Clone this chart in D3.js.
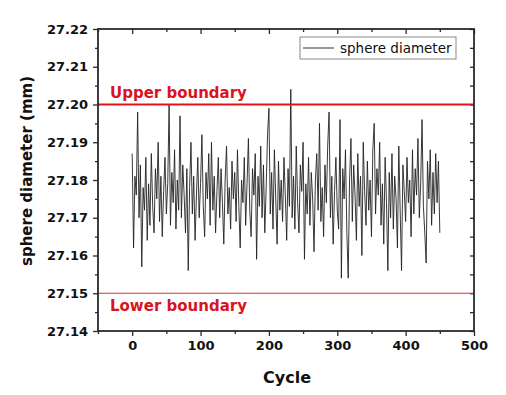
<!DOCTYPE html>
<html>
<head>
<meta charset="utf-8">
<script src="https://cdn.jsdelivr.net/npm/d3@7.9.0/dist/d3.min.js"></script>
<style>
  body { margin: 0; background: #fff; }
  svg { display: block; }
</style>
</head>
<body>
<svg id="chart" width="506" height="395"></svg>
<script>
// cycle numbers: one point every 2 cycles, 0..450
const cycles = d3.range(0, 451, 2);

// sphere diameter (mm)
const diameters = [
  27.187, 27.162, 27.181, 27.176, 27.198, 27.170, 27.184, 27.157, 27.178, 27.172,
  27.186, 27.164, 27.179, 27.168, 27.187, 27.173, 27.166, 27.183, 27.175, 27.190,
  27.169, 27.181, 27.165, 27.177, 27.186, 27.171, 27.179, 27.200, 27.168, 27.182,
  27.174, 27.188, 27.167, 27.180, 27.172, 27.197, 27.170, 27.184, 27.176, 27.166,
  27.183, 27.156, 27.178, 27.190, 27.171, 27.181, 27.164, 27.176, 27.186, 27.170,
  27.179, 27.192, 27.173, 27.165, 27.182, 27.175, 27.187, 27.168, 27.190, 27.172,
  27.181, 27.166, 27.177, 27.186, 27.170, 27.183, 27.174, 27.163, 27.180, 27.189,
  27.171, 27.178, 27.167, 27.185, 27.175, 27.182, 27.169, 27.188, 27.173, 27.162,
  27.180, 27.174, 27.186, 27.168, 27.179, 27.191, 27.172, 27.165, 27.183, 27.176,
  27.187, 27.159, 27.181, 27.173, 27.189, 27.170, 27.184, 27.166, 27.178, 27.192,
  27.199, 27.171, 27.182, 27.167, 27.188, 27.175, 27.163, 27.185, 27.172, 27.180,
  27.169, 27.186, 27.176, 27.164, 27.183, 27.173, 27.204, 27.170, 27.181, 27.167,
  27.189, 27.174, 27.166, 27.184, 27.177, 27.190, 27.159, 27.179, 27.171, 27.186,
  27.168, 27.182, 27.175, 27.161, 27.180, 27.187, 27.172, 27.195, 27.169, 27.178,
  27.165, 27.184, 27.174, 27.189, 27.198, 27.170, 27.181, 27.163, 27.177, 27.186,
  27.172, 27.167, 27.196, 27.154, 27.183, 27.175, 27.188, 27.166, 27.154, 27.180,
  27.191, 27.169, 27.184, 27.176, 27.164, 27.187, 27.173, 27.181, 27.160, 27.190,
  27.177, 27.168, 27.185, 27.172, 27.180, 27.165, 27.188, 27.195, 27.171, 27.183,
  27.176, 27.190, 27.168, 27.179, 27.163, 27.186, 27.174, 27.156, 27.182, 27.170,
  27.187, 27.167, 27.181, 27.175, 27.162, 27.189, 27.172, 27.156, 27.184, 27.177,
  27.169, 27.186, 27.174, 27.180, 27.165, 27.188, 27.171, 27.183, 27.176, 27.191,
  27.170, 27.179, 27.196, 27.173, 27.166, 27.158, 27.185, 27.175, 27.188, 27.168,
  27.182, 27.171, 27.187, 27.174, 27.185, 27.166
];

const xTicks = [0, 100, 200, 300, 400, 500];
const yTicks = [27.14, 27.15, 27.16, 27.17, 27.18, 27.19, 27.20, 27.21, 27.22];
const boundaries = [
  { label: 'Upper boundary', value: 27.20 },
  { label: 'Lower boundary', value: 27.15 }
];

const svg = d3.select('#chart');
const plotLeft = 98, plotRight = 474, plotTop = 29, plotBottom = 331;

let x = d3.scaleLinear().domain([-50, 500]).range([plotLeft, plotRight]);
let y = d3.scaleLinear().domain([27.14, 27.22]).range([plotBottom, plotTop]);

const axisColor = '#2b2b2b';
const tickFont = 'DejaVu Sans, sans-serif';

// minor ticks
const xMinor = d3.range(-50, 501, 50).filter((d) => d % 100 !== 0);
const yMinor = d3.range(0, 8).map((i) => 27.145 + i * 0.01);

function styleAxis(g) {
  g.select('.domain').remove();
  g.selectAll('line').attr('stroke', axisColor).attr('stroke-width', 1.3);
  g.selectAll('text')
    .attr('fill', '#111')
    .attr('font-family', tickFont)
    .attr('font-weight', 'bold')
    .attr('font-size', 13);
}

// bottom
svg.append('g')
  .attr('transform', `translate(0,${plotBottom})`)
  .call(d3.axisBottom(x).tickValues(xTicks).tickSize(5).tickPadding(5).tickFormat(d3.format('d')))
  .call(styleAxis);
svg.append('g')
  .attr('transform', `translate(0,${plotBottom})`)
  .call(d3.axisBottom(x).tickValues(xMinor).tickSize(3).tickFormat(''))
  .call(styleAxis);

// top (inward, no labels)
svg.append('g')
  .attr('transform', `translate(0,${plotTop})`)
  .call(d3.axisBottom(x).tickValues(xTicks).tickSize(5).tickFormat(''))
  .call(styleAxis);
svg.append('g')
  .attr('transform', `translate(0,${plotTop})`)
  .call(d3.axisBottom(x).tickValues(xMinor).tickSize(3).tickFormat(''))
  .call(styleAxis);

// left
svg.append('g')
  .attr('transform', `translate(${plotLeft},0)`)
  .call(d3.axisLeft(y).tickValues(yTicks).tickSize(5).tickPadding(5).tickFormat(d3.format('.2f')))
  .call(styleAxis);
svg.append('g')
  .attr('transform', `translate(${plotLeft},0)`)
  .call(d3.axisLeft(y).tickValues(yMinor).tickSize(3).tickFormat(''))
  .call(styleAxis);

// right (inward, no labels)
svg.append('g')
  .attr('transform', `translate(${plotRight},0)`)
  .call(d3.axisLeft(y).tickValues(yTicks).tickSize(4).tickFormat(''))
  .call(styleAxis);
svg.append('g')
  .attr('transform', `translate(${plotRight},0)`)
  .call(d3.axisLeft(y).tickValues(yMinor).tickSize(4).tickFormat(''))
  .call(styleAxis);

// data line
let line = d3.line()
  .x((d, i) => x(cycles[i]))
  .y((d) => y(d));

svg.append('path')
  .datum(diameters)
  .attr('d', line)
  .attr('fill', 'none')
  .attr('stroke', '#222')
  .attr('stroke-width', 0.9);

// boundary lines
boundaries.forEach((b, i) => {
  svg.append('line')
    .attr('x1', plotLeft).attr('x2', plotRight)
    .attr('y1', y(b.value)).attr('y2', y(b.value))
    .attr('stroke', i === 0 ? '#e3121b' : '#f22a2a')
    .attr('stroke-width', i === 0 ? 2 : 1.2);
  svg.append('text')
    .attr('x', 110)
    .attr('y', i === 0 ? y(b.value) - 7 : y(b.value) + 18)
    .attr('fill', '#d8141e')
    .attr('font-family', tickFont)
    .attr('font-weight', 'bold')
    .attr('font-size', 15)
    .text(b.label);
});

// plot frame
svg.append('rect')
  .attr('x', plotLeft).attr('y', plotTop)
  .attr('width', plotRight - plotLeft).attr('height', plotBottom - plotTop)
  .attr('fill', 'none')
  .attr('stroke', axisColor)
  .attr('stroke-width', 1.8);

// legend
const legend = svg.append('g');
legend.append('rect')
  .attr('x', 300).attr('y', 37).attr('width', 156).attr('height', 22)
  .attr('fill', '#fff').attr('stroke', '#888').attr('stroke-width', 1);
legend.append('line')
  .attr('x1', 303).attr('x2', 334).attr('y1', 48).attr('y2', 48)
  .attr('stroke', '#333').attr('stroke-width', 1);
legend.append('text')
  .attr('x', 340).attr('y', 53)
  .attr('font-family', tickFont)
  .attr('font-size', 13.5)
  .attr('fill', '#111')
  .text('sphere diameter');

// axis titles
svg.append('text')
  .attr('x', 287).attr('y', 383)
  .attr('text-anchor', 'middle')
  .attr('font-family', tickFont)
  .attr('font-weight', 'bold')
  .attr('font-size', 16)
  .attr('fill', '#111')
  .text('Cycle');

svg.append('text')
  .attr('transform', 'translate(32,171) rotate(-90)')
  .attr('text-anchor', 'middle')
  .attr('font-family', tickFont)
  .attr('font-weight', 'bold')
  .attr('font-size', 15)
  .attr('fill', '#111')
  .text('sphere diameter (mm)');
</script>
</body>
</html>
